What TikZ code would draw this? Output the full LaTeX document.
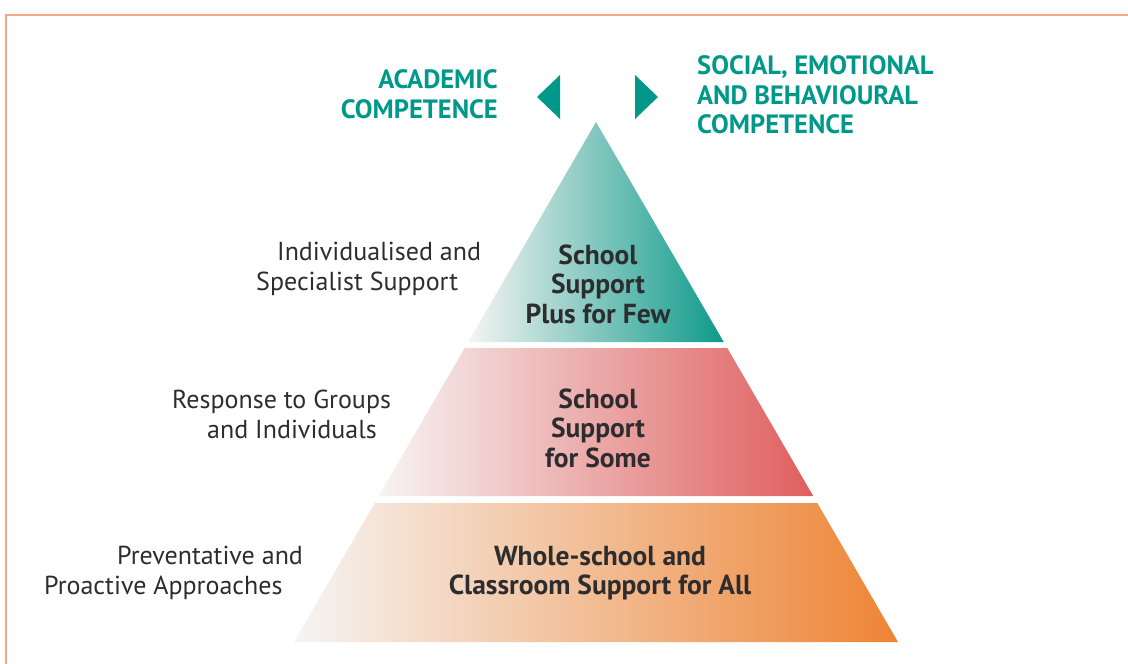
\documentclass[tikz,border=0pt]{standalone}
\usepackage{fontspec}
\setmainfont{PT Sans}
\usepackage{tikz}
\usetikzlibrary{positioning}
\definecolor{frameColor}{RGB}{242,168,138}
\definecolor{tealColor}{RGB}{0,153,137}
\definecolor{textColor}{RGB}{45,45,48}
\definecolor{fadeColor}{RGB}{246,244,243}
\definecolor{fewColor}{RGB}{14,154,138}
\definecolor{someColor}{RGB}{224,94,94}
\definecolor{allColor}{RGB}{238,132,52}
\tikzstyle{pixels} = [x = 1pt, y = -1pt]
\tikzstyle{frameLine} = [color=frameColor, line width=1.5pt]
\tikzstyle{headText} = [text=tealColor, font=\fontsize{26.5}{29.5}\selectfont\bfseries, inner sep=0pt]
\tikzstyle{sideText} = [text=textColor, font=\fontsize{26}{30}\selectfont, align=left, anchor=west, inner sep=0pt]
\tikzstyle{layerText} = [text=textColor, font=\fontsize{27.5}{29.5}\selectfont\bfseries, align=center, inner sep=0pt]
\tikzstyle{pointer} = [fill=tealColor]
\newcommand{\apexX}{596}
\newcommand{\apexY}{122}
\newcommand{\slope}{0.5808}
\newcommand{\pyramidLayer}[3]{
  \pgfmathsetmacro{\topHalf}{(#1 - \apexY) * \slope}
  \pgfmathsetmacro{\bottomHalf}{(#2 - \apexY) * \slope}
  \shade [left color=fadeColor, right color=#3] (\apexX - \topHalf, #1) -- (\apexX + \topHalf, #1) -- (\apexX + \bottomHalf, #2) -- (\apexX - \bottomHalf, #2) -- cycle;
}
\begin{document}
\begin{tikzpicture}[pixels]
  \useasboundingbox (0,0) rectangle (1128,664);
  \draw [frameLine] (6,664) -- (6,15) -- (1128,15);

  \pyramidLayer{122}{342}{fewColor}
  \pyramidLayer{348}{496}{someColor}
  \pyramidLayer{503}{642}{allColor}

  \fill [pointer] (537,97) -- (560,75) -- (560,119) -- cycle;
  \fill [pointer] (658,97) -- (635,75) -- (635,119) -- cycle;

  \node [headText, align=right, anchor=east] (academic) at (498,94) {ACADEMIC\\COMPETENCE};
  \node [headText, align=left, anchor=west] (social) at (697,95) {SOCIAL, EMOTIONAL\\AND BEHAVIOURAL\\COMPETENCE};

  \node [sideText] (specialist) at (256,269) {\hspace*{21pt}Individualised and\\Specialist Support};
  \node [sideText] (groups) at (172,414) {Response to Groups\\\hspace*{35pt}and Individuals};
  \node [sideText] (proactive) at (44,573) {\hspace*{73pt}Preventative and\\Proactive Approaches};

  \node [layerText] (forFew) at (598,284) {School\\Support\\Plus for Few};
  \node [layerText] (forSome) at (598,428) {School\\Support\\for Some};
  \node [layerText] (forAll) at (600,573) {Whole-school and\\Classroom Support for All};
\end{tikzpicture}
\end{document}
